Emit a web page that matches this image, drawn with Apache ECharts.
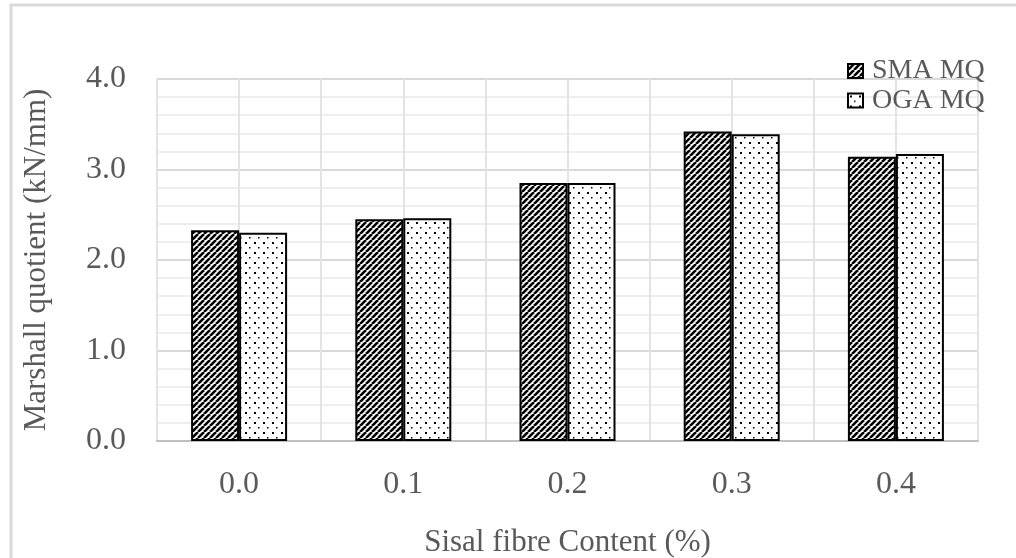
<!DOCTYPE html>
<html>
<head>
<meta charset="utf-8">
<script src="https://cdn.jsdelivr.net/npm/echarts@6/dist/echarts.min.js"></script>
<style>html,body{margin:0;padding:0;background:#fff}#c{width:1016px;height:558px}</style>
</head>
<body>
<div id="c"></div>
<script>
var categories = ['0.0', '0.1', '0.2', '0.3', '0.4'];
var smaValues = [2.33, 2.45, 2.85, 3.42, 3.14];
var ogaValues = [2.30, 2.46, 2.85, 3.39, 3.17];
var seriesNames = ['SMA MQ', 'OGA MQ'];
var yTicks = [0, 1, 2, 3, 4];

function hatch() {
  var c = document.createElement('canvas');
  c.width = 6; c.height = 6;
  var g = c.getContext('2d');
  g.fillStyle = '#fff'; g.fillRect(0, 0, 6, 6);
  g.strokeStyle = '#000'; g.lineWidth = 2.6;
  for (var k = -12; k <= 12; k += 6) {
    g.beginPath(); g.moveTo(k, 6); g.lineTo(k + 6, 0); g.stroke();
  }
  return c;
}
function dots() {
  var c = document.createElement('canvas');
  c.width = 9; c.height = 10;
  var g = c.getContext('2d');
  g.fillStyle = '#fff'; g.fillRect(0, 0, 9, 10);
  g.fillStyle = '#000';
  g.fillRect(2, 2, 2, 2);
  g.fillRect(6, 7, 1.5, 1.5);
  return c;
}
var font = '"Liberation Serif", "Times New Roman", serif';
var chart = echarts.init(document.getElementById('c'), null, {renderer: 'canvas'});
chart.setOption({
  animation: false,
  backgroundColor: '#fff',
  graphic: [{
    type: 'polyline', silent: true,
    shape: {points: [[11, 560], [11, 5], [1020, 5]]},
    style: {stroke: '#d9d9d9', lineWidth: 3, fill: null}
  }],
  grid: {left: 157, right: 38, top: 79, bottom: 117, outerBoundsMode: 'none', containLabel: false},
  legend: {
    orient: 'vertical', left: 842, top: 52, itemWidth: 15, itemHeight: 14, itemGap: 1.5,
    icon: 'rect',
    data: seriesNames,
    textStyle: {fontFamily: font, fontSize: 28, color: '#595959', padding: [0, 0, 0, 4]},
    itemStyle: {borderColor: '#000', borderWidth: 2}
  },
  xAxis: [{
    type: 'category', data: categories,
    axisLine: {show: true, lineStyle: {color: '#bfbfbf', width: 2}},
    axisTick: {show: false},
    axisLabel: {fontFamily: font, fontSize: 32, color: '#595959', margin: 28},
    splitLine: {show: false},
    name: 'Sisal fibre Content (%)', nameLocation: 'middle', nameGap: 86,
    nameTextStyle: {fontFamily: font, fontSize: 31, color: '#595959'}
  }, {
    type: 'value', min: 0, max: 5, interval: 0.5, show: true, position: 'top',
    axisLine: {show: false}, axisTick: {show: false}, axisLabel: {show: false},
    splitLine: {show: true, lineStyle: {color: '#e3e3e3', width: 2}}
  }],
  yAxis: {
    type: 'value', min: yTicks[0], max: yTicks[yTicks.length - 1], interval: 1,
    axisLine: {show: false}, axisTick: {show: false},
    axisLabel: {fontFamily: font, fontSize: 32, color: '#595959', margin: 31,
      formatter: function (v) { return v.toFixed(1); }},
    splitLine: {show: true, lineStyle: {color: '#d9d9d9', width: 2}},
    minorTick: {show: false, splitNumber: 5},
    minorSplitLine: {show: true, lineStyle: {color: '#eeeeee', width: 2}},
    name: 'Marshall quotient (kN/mm)', nameLocation: 'middle', nameGap: 105,
    nameTextStyle: {fontFamily: font, fontSize: 31, color: '#595959'}
  },
  series: [{
    name: seriesNames[0], type: 'bar', data: smaValues, barWidth: 48, barGap: '0%',
    itemStyle: {color: {image: hatch(), repeat: 'repeat'}, borderColor: '#000', borderWidth: 2}
  }, {
    name: seriesNames[1], type: 'bar', data: ogaValues, barWidth: 48, barGap: '0%',
    itemStyle: {color: {image: dots(), repeat: 'repeat'}, borderColor: '#000', borderWidth: 2}
  }]
});
</script>
</body>
</html>
